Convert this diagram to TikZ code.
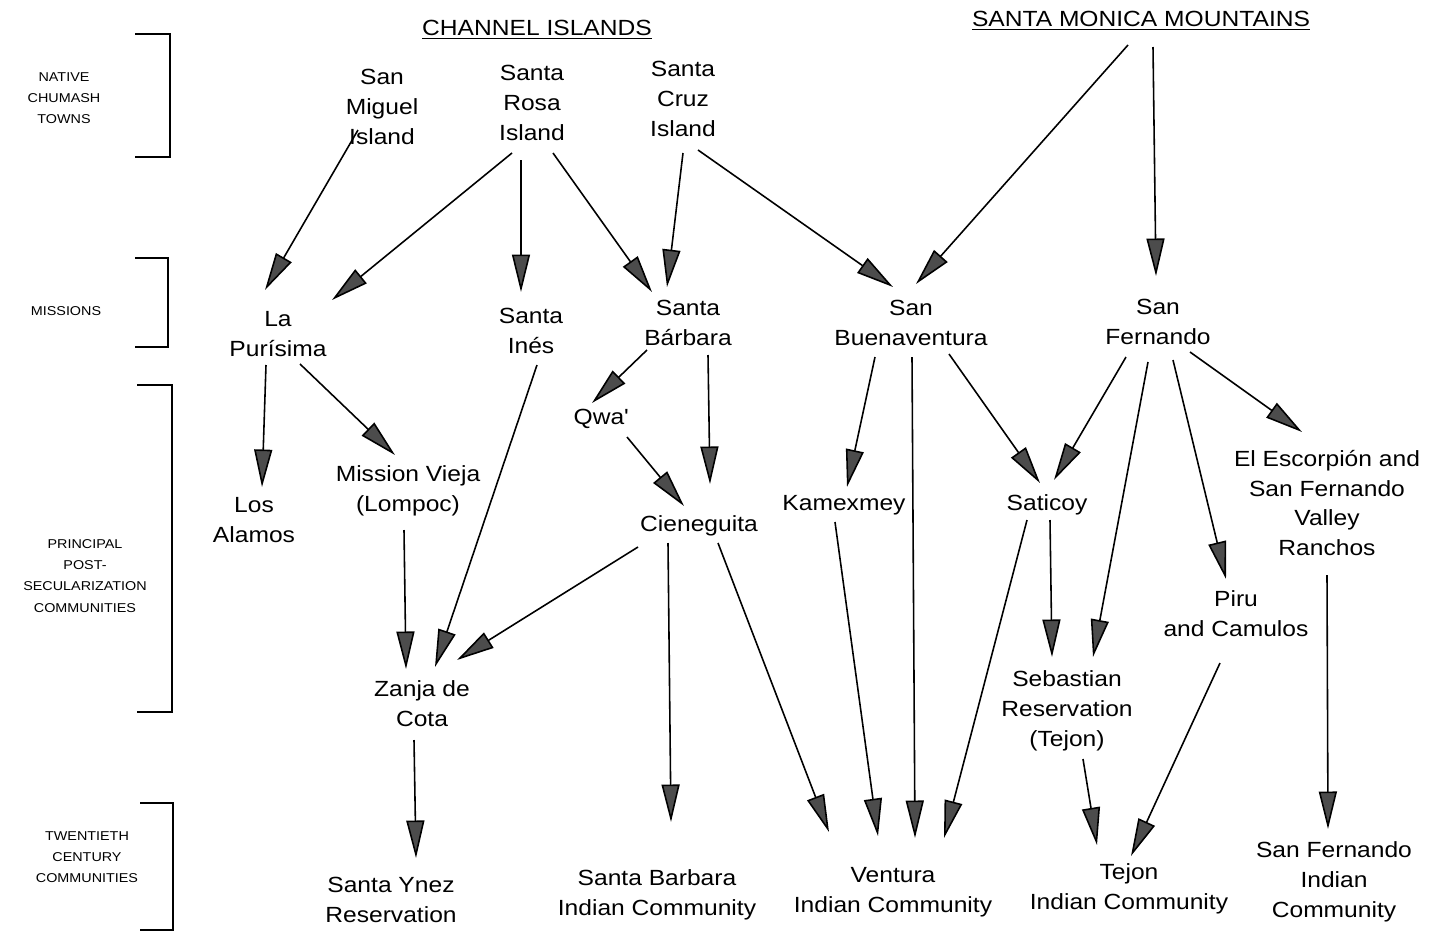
\documentclass[tikz,border=0pt]{standalone}
\usepackage{fontspec}
\setmainfont{Liberation Sans}[FakeStretch=1.12]
\usetikzlibrary{arrows.meta,calc}

\tikzset{
  place/.style={align=center, inner sep=0pt, font=\fontsize{12.5}{17}\selectfont},
  tier/.style={align=center, inner sep=0pt, font=\fontsize{7.3}{12}\selectfont},
  brace/.style={line width=1.6pt},
  arr/.style={line width=0.9pt, -{Triangle[length=0.75cm, width=0.36cm, fill=black!70]}}
}

\begin{document}
\begin{tikzpicture}[x=0.02cm, y=-0.02cm]
	\useasboundingbox (0,0) rectangle (1438,937);

	%tiers
	\node[tier] (towns) at (64,98) {NATIVE\\CHUMASH\\TOWNS};
	\node[tier] (missions) at (66,311) {MISSIONS};
	\node[tier] (post) at (85,576) {PRINCIPAL\\POST-\\SECULARIZATION\\COMMUNITIES};
	\node[tier] (modern) at (87,857) {TWENTIETH\\CENTURY\\COMMUNITIES};
	\draw[brace] (135,34)--(170,34)--(170,157)--(135,157);
	\draw[brace] (135,258)--(168,258)--(168,347)--(135,347);
	\draw[brace] (137,385)--(172,385)--(172,712)--(137,712);
	\draw[brace] (140,803)--(173,803)--(173,930)--(140,930);

	%headings
	\node[place] (ci) at (537,30) {\underline{CHANNEL ISLANDS}};
	\node[place] (smm) at (1141,21) {\underline{SANTA MONICA MOUNTAINS}};

	%towns
	\node[place] (smi) at (382,107) {San\\Miguel\\Island};
	\node[place] (sri) at (532,103) {Santa\\Rosa\\Island};
	\node[place] (sci) at (683,99) {Santa\\Cruz\\Island};

	%missions
	\node[place] (lp) at (278,334) {La\\Purísima};
	\node[place] (si) at (531,331) {Santa\\Inés};
	\node[place] (sb) at (688,323) {Santa\\Bárbara};
	\node[place] (sbv) at (911,323) {San\\Buenaventura};
	\node[place] (sf) at (1158,322) {San\\Fernando};

	%post-secularization
	\node[place] (qwa) at (601,419) {Qwa\textquotesingle};
	\node[place] (la) at (254,520) {Los\\Alamos};
	\node[place] (mv) at (408,491) {Mission Vieja\\(Lompoc)};
	\node[place] (cie) at (699,526) {Cieneguita};
	\node[place] (kam) at (844,505) {Kamexmey};
	\node[place] (sat) at (1047,505) {Saticoy};
	\node[place] (esc) at (1327,503) {El Escorpión and\\San Fernando\\Valley\\Ranchos};
	\node[place] (piru) at (1236,614) {Piru\\and Camulos};
	\node[place] (zdc) at (422,704) {Zanja de\\Cota};
	\node[place] (seb) at (1067,711) {Sebastian\\Reservation\\(Tejon)};

	%twentieth century
	\node[place] (syr) at (391,900) {Santa Ynez\\Reservation};
	\node[place] (sbic) at (657,895) {Santa Barbara\\Indian Community};
	\node[place] (vic) at (893,892) {Ventura\\Indian Community};
	\node[place] (tic) at (1129,889) {Tejon\\Indian Community};
	\node[place] (sfic) at (1334,882) {San Fernando\\Indian\\Community};

	%towns to missions
	\draw[arr] ($(smi)+(-24,23)$) -- ($(lp)+(-13,-44)$);
	\draw[arr] ($(sri)+(-20,50)$) -- ($(lp)+(54,-34)$);
	\draw[arr] ($(sri)+(-11,57)$) -- ($(si)+(-10,-39)$);
	\draw[arr] ($(sri)+(21,50)$) -- ($(sb)+(-36,-31)$);
	\draw[arr] ($(sci)+(0,54)$) -- ($(sb)+(-21,-36)$);
	\draw[arr] ($(sci)+(15,51)$) -- ($(sbv)+(-18,-36)$);
	\draw[arr] ($(smm)+(-13,24)$) -- ($(sbv)+(5,-39)$);
	\draw[arr] ($(smm)+(12,26)$) -- ($(sf)+(-2,-46)$);

	%missions to communities
	\draw[arr] ($(lp)+(-12,31)$) -- ($(la)+(8,-33)$);
	\draw[arr] ($(lp)+(22,30)$) -- ($(mv)+(-13,-36)$);
	\draw[arr] ($(si)+(6,34)$) -- ($(zdc)+(13,-37)$);
	\draw[arr] ($(sb)+(-41,27)$) -- ($(qwa)+(-9,-16)$);
	\draw[arr] ($(sb)+(20,32)$) -- ($(cie)+(11,-42)$);
	\draw[arr] ($(qwa)+(26,18)$) -- ($(cie)+(-15,-20)$);
	\draw[arr] ($(sbv)+(-36,34)$) -- ($(kam)+(3,-18)$);
	\draw[arr] ($(sbv)+(1,34)$) -- ($(vic)+(22,-54)$);
	\draw[arr] ($(sbv)+(38,31)$) -- ($(sat)+(-7,-22)$);
	\draw[arr] ($(sf)+(-32,35)$) -- ($(sat)+(7,-25)$);
	\draw[arr] ($(sf)+(-10,40)$) -- ($(seb)+(26,-54)$);
	\draw[arr] ($(sf)+(15,38)$) -- ($(piru)+(-10,-35)$);
	\draw[arr] ($(sf)+(32,30)$) -- ($(esc)+(-25,-71)$);

	%communities onward
	\draw[arr] ($(mv)+(-4,39)$) -- ($(zdc)+(-16,-35)$);
	\draw[arr] ($(cie)+(-61,21)$) -- ($(zdc)+(35,-44)$);
	\draw[arr] ($(cie)+(-31,17)$) -- ($(sbic)+(14,-73)$);
	\draw[arr] ($(cie)+(19,17)$) -- ($(vic)+(-64,-60)$);
	\draw[arr] ($(kam)+(-9,17)$) -- ($(vic)+(-15,-56)$);
	\draw[arr] ($(sat)+(-20,15)$) -- ($(vic)+(51,-54)$);
	\draw[arr] ($(sat)+(3,15)$) -- ($(seb)+(-15,-54)$);
	\draw[arr] ($(zdc)+(-8,36)$) -- ($(syr)+(25,-42)$);
	\draw[arr] ($(seb)+(16,48)$) -- ($(tic)+(-32,-44)$);
	\draw[arr] ($(piru)+(-16,49)$) -- ($(tic)+(2,-33)$);
	\draw[arr] ($(esc)+(0,72)$) -- ($(sfic)+(-6,-53)$);
\end{tikzpicture}
\end{document}
